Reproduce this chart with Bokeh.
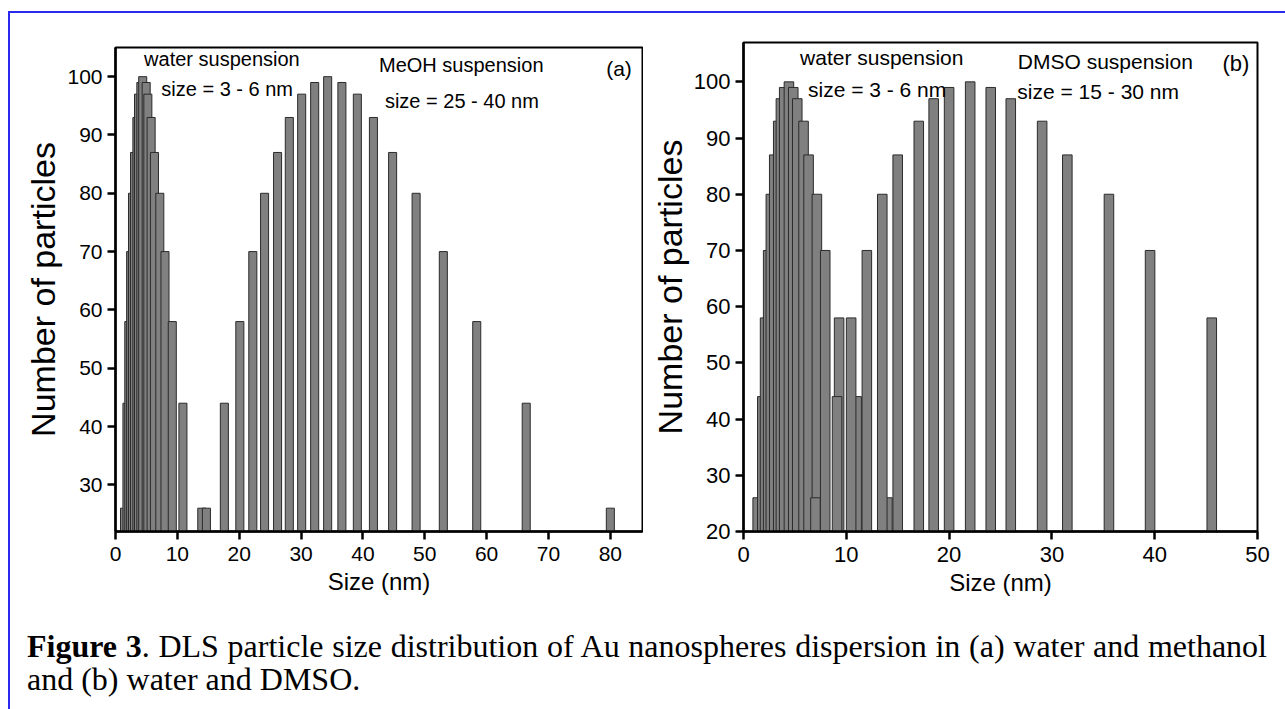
from bokeh.plotting import figure
from bokeh.models import Range1d, FixedTicker, Label, ColumnDataSource, Div
from bokeh.layouts import row, column
from bokeh.embed import file_html
from bokeh.resources import INLINE

# ---------------- data ----------------
a_water_size = [1.46, 1.85, 2.15, 2.45, 2.75, 3.08, 3.46, 3.72, 4.10, 4.40,
                4.96, 5.23, 5.76, 6.30, 7.16, 8.00, 9.18, 10.90, 13.95]
a_water_count = [26, 44, 58, 70, 80, 87, 93, 97, 99, 100, 99, 97, 93, 87, 80, 70, 58, 44, 26]
a_meoh_size = [14.7, 17.6, 20.1, 22.2, 24.1, 26.2, 28.1, 30.1, 32.2, 34.3,
               36.6, 39.1, 41.7, 44.8, 48.6, 53.0, 58.4, 66.4, 80.0]
a_meoh_count = [26, 44, 58, 70, 80, 87, 93, 97, 99, 100, 99, 97, 93, 87, 80, 70, 58, 44, 26]

b_water_size = [1.38, 1.83, 2.10, 2.40, 2.66, 2.99, 3.38, 3.64, 3.96, 4.42,
                4.84, 5.23, 5.84, 6.33, 7.14, 7.95, 9.30, 11.0, 14.0]
b_water_count = [26, 44, 58, 70, 80, 87, 93, 97, 99, 100, 99, 97, 93, 87, 80, 70, 58, 44, 26]
b_dmso_size = [7.0, 9.1, 10.47, 12.0, 13.5, 15.0, 17.05, 18.5, 20.0, 22.05,
               24.05, 26.0, 29.05, 31.5, 35.55, 39.55, 45.55]
b_dmso_count = [26, 44, 58, 70, 80, 87, 93, 97, 99, 100, 99, 97, 93, 87, 80, 70, 58]

a_xticks = [0, 10, 20, 30, 40, 50, 60, 70, 80]
a_yticks = [30, 40, 50, 60, 70, 80, 90, 100]
b_xticks = [0, 10, 20, 30, 40, 50]
b_yticks = [20, 30, 40, 50, 60, 70, 80, 90, 100]

FONT = "Liberation Sans"
BAR_FILL = "#808080"
BAR_LINE = "#2b2b2b"
BLUE = "#2a2aee"


def style(p, tick_px, xlab_px, ylab_px, xticks, yticks):
    p.outline_line_color = "black"
    p.outline_line_width = 2
    p.xgrid.visible = False
    p.ygrid.visible = False
    p.background_fill_color = "white"
    p.border_fill_color = "white"
    for ax in (p.xaxis[0], p.yaxis[0]):
        ax.axis_line_width = 2.5
        ax.axis_line_color = "black"
        ax.major_tick_line_width = 2.5
        ax.major_tick_line_color = "black"
        ax.major_tick_out = 8
        ax.major_tick_in = 0
        ax.minor_tick_line_color = None
        ax.major_label_text_font = FONT
        ax.major_label_text_font_size = f"{tick_px}px"
        ax.major_label_text_color = "black"
        ax.axis_label_text_font = FONT
        ax.axis_label_text_font_style = "normal"
        ax.axis_label_text_color = "black"
    p.xaxis.ticker = FixedTicker(ticks=xticks)
    p.yaxis.ticker = FixedTicker(ticks=yticks)
    p.xaxis.axis_label = "Size (nm)"
    p.yaxis.axis_label = "Number of particles"
    p.xaxis.axis_label_text_font_size = f"{xlab_px}px"
    p.yaxis.axis_label_text_font_size = f"{ylab_px}px"
    p.xaxis.major_label_standoff = 7
    p.yaxis.major_label_standoff = 5
    p.xaxis.axis_label_standoff = 4
    p.yaxis.axis_label_standoff = 2


def add_bars(p, sizes, counts, width):
    src = ColumnDataSource(dict(size=sizes, count=counts))
    p.vbar(x="size", top="count", bottom=0, width=width, source=src,
           fill_color=BAR_FILL, line_color=BAR_LINE, line_width=1)


def add_text(p, x, y, txt, px, align="center"):
    p.add_layout(Label(x=x, y=y, text=txt, text_font=FONT,
                       text_font_size=f"{px}px", text_align=align,
                       text_baseline="alphabetic", text_color="black"))


# ---------------- panel (a) ----------------
pa = figure(width=633, height=587, output_backend="svg", toolbar_location=None,
            x_range=Range1d(0, 85.2), y_range=Range1d(22, 105),
            min_border_left=105, min_border_right=1,
            min_border_top=34, min_border_bottom=69)
style(pa, 21, 24, 34, a_xticks, a_yticks)
add_bars(pa, a_water_size, a_water_count, 1.3)
add_bars(pa, a_meoh_size, a_meoh_count, 1.3)
add_text(pa, 17.2, 103.1, "water suspension", 20)
add_text(pa, 18.05, 97.8, "size = 3 - 6 nm", 20)
add_text(pa, 55.9, 102.0, "MeOH suspension", 20)
add_text(pa, 56.0, 95.9, "size = 25 - 40 nm", 20)
add_text(pa, 81.4, 101.4, "(a)", 21)

# ---------------- panel (b) ----------------
pb = figure(width=642, height=587, output_backend="svg", toolbar_location=None,
            x_range=Range1d(0, 50), y_range=Range1d(20, 107.0),
            min_border_left=100, min_border_right=28,
            min_border_top=29, min_border_bottom=69)
style(pb, 22, 24, 34, b_xticks, b_yticks)
add_bars(pb, b_water_size, b_water_count, 0.93)
add_bars(pb, b_dmso_size, b_dmso_count, 0.93)
add_text(pb, 13.45, 104.3, "water suspension", 21)
add_text(pb, 13.0, 98.6, "size = 3 - 6 nm", 21)
add_text(pb, 35.2, 103.6, "DMSO suspension", 21)
add_text(pb, 34.5, 98.2, "size = 15 - 30 nm", 21)
add_text(pb, 47.9, 103.3, "(b)", 22)

# ---------------- caption ----------------
cap_html = (
    "<div style=\"font-family:'Liberation Serif',serif;font-size:32px;"
    "line-height:33px;color:#000;width:1240px;margin-left:12px;padding-top:25px;\">"
    "<div style='text-align:justify;text-align-last:justify;white-space:normal;'>"
    "<b>Figure 3</b>. DLS particle size distribution of Au nanospheres dispersion "
    "in (a) water and methanol</div>"
    "<div>and (b) water and DMSO.</div></div>"
)
cap = Div(text=cap_html, width=1275, height=109)

layout = column(
    row(column(pa), column(pb)),
    cap,
    margin=(11, 0, 0, 8),
    styles={"border-top": f"2px solid {BLUE}", "border-left": f"2px solid {BLUE}"},
)

open("out.html", "w").write(file_html(layout, INLINE))
